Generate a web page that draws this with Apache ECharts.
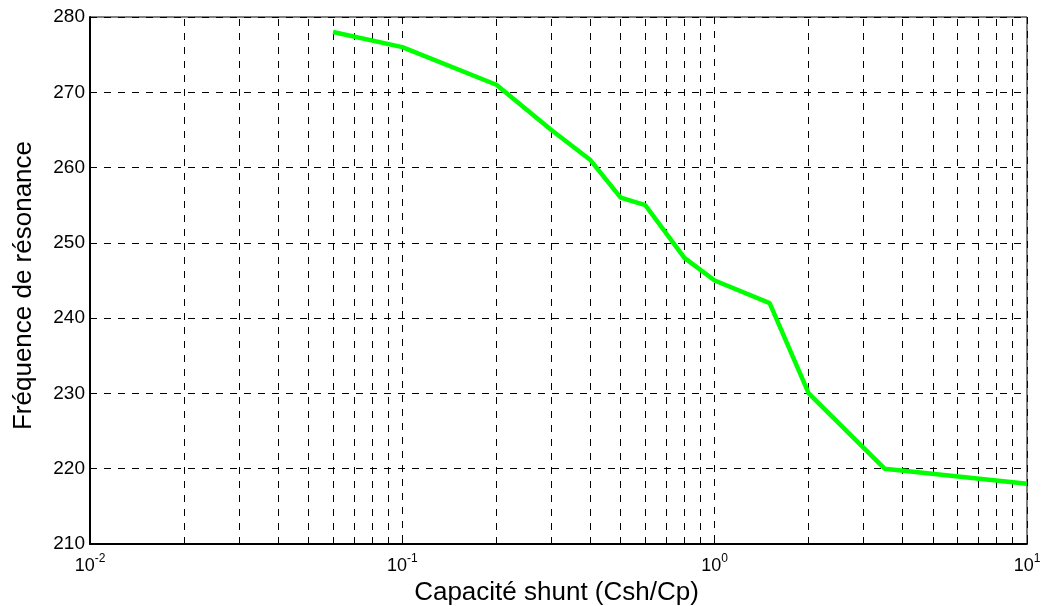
<!DOCTYPE html>
<html>
<head>
<meta charset="utf-8">
<script src="https://cdn.jsdelivr.net/npm/echarts@6/dist/echarts.min.js"></script>
<style>html,body{margin:0;padding:0;background:#fff}#c{width:1044px;height:606px}</style>
</head>
<body>
<div id="c"></div>
<script>
const capacite = [0.06, 0.1, 0.2, 0.3, 0.4, 0.5, 0.6, 0.8, 1, 1.5, 2, 3.5, 10];
const frequence = [278, 276, 271, 265, 261, 256, 255, 248, 245, 242, 230, 220, 218];
const minorTicks = [0.02,0.03,0.04,0.05,0.06,0.07,0.08,0.09,0.2,0.3,0.4,0.5,0.6,0.7,0.8,0.9,2,3,4,5,6,7,8,9];
const xTitle = 'Capacité shunt (Csh/Cp)';
const yTitle = 'Fréquence de résonance';

const FONT = "'Liberation Sans', Arial, sans-serif";
const dash = [7, 7];
const chart = echarts.init(document.getElementById('c'), null, {renderer: 'canvas'});
chart.setOption({
  animation: false,
  backgroundColor: '#fff',
  grid: {left: 90, right: 17, top: 17, bottom: 62, containLabel: false, outerBoundsMode: 'none',
         show: true, borderColor: '#000', borderWidth: 1, backgroundColor: 'transparent'},
  xAxis: {
    type: 'log', logBase: 10, min: 0.01, max: 10,
    name: xTitle, nameLocation: 'middle', nameGap: 35,
    nameTextStyle: {fontFamily: FONT, fontSize: 26, color: '#000', padding: [0, 4, 0, 0]},
    axisLine: {show: true, lineStyle: {color: '#000', width: 1.8}},
    axisTick: {show: true, inside: true, length: 5, lineStyle: {color: '#000'}},
    axisLabel: {
      fontFamily: FONT, color: '#000', margin: 9,
      formatter: function (v) { return '{b|10}{s|' + Math.round(Math.log10(v)) + '}'; },
      rich: {b: {fontSize: 18, fontFamily: FONT, color: '#000', verticalAlign: 'bottom'},
             s: {fontSize: 12, fontFamily: FONT, color: '#000', verticalAlign: 'top', padding: [0,0,10,0]}}
    },
    splitLine: {show: true, lineStyle: {color: '#000', width: 1, type: dash}}
  },
  yAxis: {
    type: 'value', min: 210, max: 280, interval: 10,
    name: yTitle, nameLocation: 'middle', nameGap: 53,
    nameTextStyle: {fontFamily: FONT, fontSize: 26, color: '#000', padding: [0, 10, 0, 0]},
    axisLine: {show: true, lineStyle: {color: '#000', width: 2}},
    axisTick: {show: true, inside: true, length: 5, lineStyle: {color: '#000'}},
    axisLabel: {fontFamily: FONT, fontSize: 19, color: '#000', margin: 5},
    splitLine: {show: true, lineStyle: {color: '#000', width: 1, type: dash}}
  },
  series: [{
    type: 'line',
    data: capacite.map((x, i) => [x, frequence[i]]),
    showSymbol: false,
    lineStyle: {color: '#00ff00', width: 4.5},
    z: 5,
    markLine: {
      silent: true, symbol: 'none', label: {show: false},
      lineStyle: {color: '#000', width: 1, type: dash},
      data: minorTicks.map(v => ({xAxis: v}))
    }
  }]
});
</script>
</body>
</html>
